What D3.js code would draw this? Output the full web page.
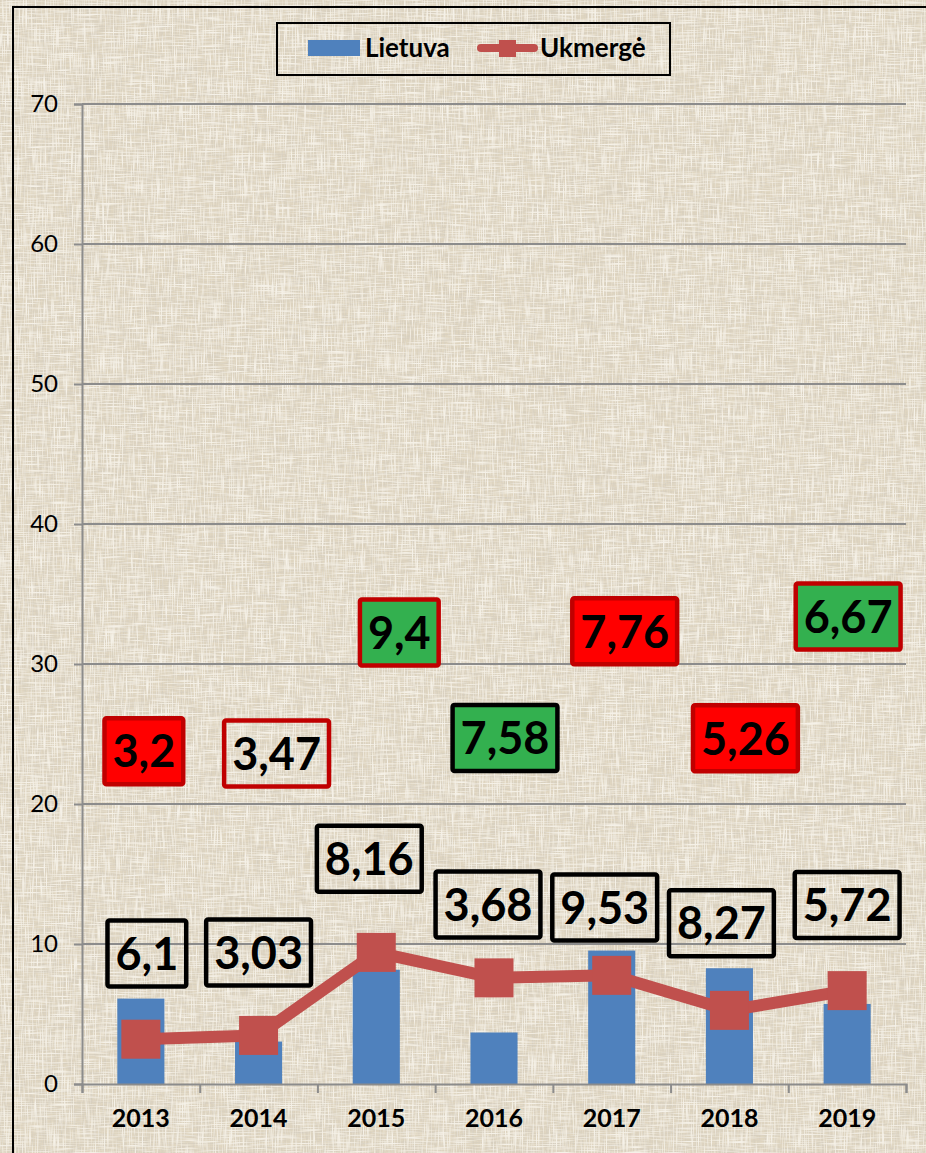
<!DOCTYPE html>
<html>
<head>
<meta charset="utf-8">
<script src="https://cdn.jsdelivr.net/npm/d3@7"></script>
<style>
  html, body { margin: 0; padding: 0; background: #e3d9c5; }
  svg { display: block; }
</style>
</head>
<body>
<svg id="chart" width="926" height="1153"></svg>
<script>
// data
var years = ["2013", "2014", "2015", "2016", "2017", "2018", "2019"];
var lietuva = [6.1, 3.03, 8.16, 3.68, 9.53, 8.27, 5.72];
var ukmerge = [3.2, 3.47, 9.4, 7.58, 7.76, 5.26, 6.67];
var yTicks = [0, 10, 20, 30, 40, 50, 60, 70];

// label placement (px offset from the point) and box styles
var lietuvaLabelOffset = [[6, -45], [0, -89], [-7, -111], [-6, -128], [-7, -43], [-8, -45], [0, -99]];
var ukmergeLabelOffset = [[3, -288], [18, -282], [23, -320], [11, -240], [13, -344], [16, -272], [1, -374]];
var ukmergeLabelFill = ["#ff0000", "none", "#33b04f", "#33b04f", "#ff0000", "#ff0000", "#33b04f"];
var ukmergeLabelStroke = ["#c00000", "#c00000", "#c00000", "#000", "#c00000", "#c00000", "#c00000"];

var colors = { bar: "#4f81bd", line: "#c0504d", grid: "#8c8c8c" };
var fmt = function(v) { return String(v).replace(".", ","); };

var svg = d3.select("#chart");
var width = +svg.attr("width"), height = +svg.attr("height");
var margin = { top: 104, right: 20, bottom: 69, left: 82 };
var plotRight = width - margin.right, plotBottom = height - margin.bottom;

// linen-like background
var defs = svg.append("defs");
var f = defs.append("filter").attr("id", "linen").attr("x", 0).attr("y", 0).attr("width", 1).attr("height", 1);
function noise(freq, seed, name, rgb, a, b) {
  f.append("feTurbulence").attr("type", "fractalNoise").attr("baseFrequency", freq)
    .attr("numOctaves", 2).attr("seed", seed).attr("result", "n" + name);
  f.append("feColorMatrix").attr("in", "n" + name).attr("type", "matrix")
    .attr("values", "0 0 0 0 " + rgb[0] + "  0 0 0 0 " + rgb[1] + "  0 0 0 0 " + rgb[2] + "  " + a + " 0 0 0 " + b)
    .attr("result", name);
}
noise("1.1 0.035", 4, "dv", [0.66, 0.61, 0.52], 2.8, -1.2);
noise("0.035 1.1", 9, "dh", [0.66, 0.61, 0.52], 2.8, -1.2);
noise("0.9 0.04", 2, "lv", [0.98, 0.96, 0.91], 3.0, -1.4);
noise("0.04 0.9", 7, "lh", [0.98, 0.96, 0.91], 3.0, -1.4);
var fm = f.append("feMerge");
["dv", "dh", "lv", "lh"].forEach(function(n) { fm.append("feMergeNode").attr("in", n); });

svg.append("rect").attr("width", width).attr("height", height).attr("fill", "#e0d6c1");
svg.append("rect").attr("width", width).attr("height", height).attr("fill", "#fff")
  .attr("filter", "url(#linen)").attr("opacity", 0.75);

// chart area border (only top and left visible in the crop)
svg.append("path").attr("d", "M13," + height + "V7H" + width)
  .attr("fill", "none").attr("stroke", "#000").attr("stroke-width", 2);

// scales
var x = d3.scaleBand().domain(years).range([margin.left, plotRight]).padding(0);
var xEdge = d3.scaleLinear().domain([0, years.length]).range([margin.left, plotRight]);
var y = d3.scaleLinear().domain([0, 70]).range([plotBottom, margin.top]);
var barW = x.bandwidth() * 0.4;

// grid
svg.append("g").selectAll("line").data(yTicks.slice(1)).join("line")
  .attr("x1", margin.left).attr("x2", plotRight)
  .attr("y1", function(d) { return y(d); }).attr("y2", function(d) { return y(d); })
  .attr("stroke", colors.grid).attr("stroke-width", 2);

// y axis
var yAxis = svg.append("g").attr("transform", "translate(" + margin.left + ",0)")
  .call(d3.axisLeft(y).tickValues(yTicks).tickSize(8).tickPadding(16));
yAxis.select(".domain").attr("stroke", colors.grid).attr("stroke-width", 2);
yAxis.selectAll(".tick line").attr("stroke", colors.grid).attr("stroke-width", 2);
yAxis.selectAll("text").attr("font-family", "Lato, sans-serif").attr("font-size", 24).attr("fill", "#000");

// bars
svg.append("g").selectAll("rect").data(lietuva).join("rect")
  .attr("x", function(d, i) { return x(years[i]) + x.bandwidth() / 2 - barW / 2; })
  .attr("y", function(d) { return y(d); })
  .attr("width", barW)
  .attr("height", function(d) { return y(0) - y(d); })
  .attr("fill", colors.bar);

// x axis
var xAxis = svg.append("g").attr("transform", "translate(0," + plotBottom + ")")
  .call(d3.axisBottom(xEdge).tickValues(d3.range(years.length + 1)).tickSize(9).tickFormat(""));
xAxis.select(".domain").attr("stroke", colors.grid).attr("stroke-width", 2);
xAxis.selectAll(".tick line").attr("stroke", colors.grid).attr("stroke-width", 2);
var xLabels = svg.append("g").attr("transform", "translate(0," + plotBottom + ")")
  .call(d3.axisBottom(x).tickSize(0).tickPadding(25));
xLabels.select(".domain").remove();
xLabels.selectAll("text").attr("font-family", "Lato, sans-serif").attr("font-weight", "bold")
  .attr("font-size", 25).attr("fill", "#000");

// line + markers
var cx = function(i) { return x(years[i]) + x.bandwidth() / 2; };
var line = d3.line().x(function(d, i) { return cx(i); }).y(function(d) { return y(d); });
svg.append("path").datum(ukmerge).attr("d", line)
  .attr("fill", "none").attr("stroke", colors.line).attr("stroke-width", 12).attr("stroke-linejoin", "round");
svg.append("g").selectAll("rect").data(ukmerge).join("rect")
  .attr("x", function(d, i) { return cx(i) - 19.5; })
  .attr("y", function(d) { return y(d) - 19.5; })
  .attr("width", 39).attr("height", 39)
  .attr("fill", colors.line);

// data labels
function drawLabels(values, offsets, fills, strokes) {
  var g = svg.append("g").selectAll("g").data(values).join("g")
    .attr("transform", function(d, i) {
      return "translate(" + (cx(i) + offsets[i][0]) + "," + (y(d) + offsets[i][1]) + ")";
    });
  var box = g.append("rect");
  var txt = g.append("text").text(function(d) { return fmt(d); })
    .attr("text-anchor", "middle").attr("dy", "0.36em")
    .attr("font-family", "Lato, sans-serif").attr("font-weight", "bold")
    .attr("font-size", 45).attr("fill", "#000");
  box.each(function(d, i) {
    var w = txt.nodes()[i].getComputedTextLength() + 16;
    d3.select(this).attr("x", -w / 2).attr("y", -33).attr("width", w).attr("height", 66)
      .attr("rx", 2)
      .attr("fill", fills[i]).attr("stroke", strokes[i]).attr("stroke-width", 4.5);
  });
}
drawLabels(lietuva, lietuvaLabelOffset, lietuva.map(function() { return "none"; }), lietuva.map(function() { return "#000"; }));
drawLabels(ukmerge, ukmergeLabelOffset, ukmergeLabelFill, ukmergeLabelStroke);

// legend
var lg = svg.append("g");
lg.append("rect").attr("x", 277).attr("y", 23).attr("width", 393).attr("height", 52)
  .attr("fill", "none").attr("stroke", "#000").attr("stroke-width", 2);
lg.append("rect").attr("x", 308).attr("y", 40).attr("width", 52).attr("height", 16).attr("fill", colors.bar);
lg.append("text").attr("x", 365).attr("y", 57).text("Lietuva")
  .attr("font-family", "Lato, sans-serif").attr("font-weight", "bold").attr("font-size", 26);
lg.append("line").attr("x1", 481).attr("x2", 534).attr("y1", 48).attr("y2", 48)
  .attr("stroke", colors.line).attr("stroke-width", 8).attr("stroke-linecap", "round");
lg.append("rect").attr("x", 499).attr("y", 40).attr("width", 17).attr("height", 17).attr("fill", colors.line);
lg.append("text").attr("x", 540).attr("y", 57).text("Ukmergė")
  .attr("font-family", "Lato, sans-serif").attr("font-weight", "bold").attr("font-size", 26);
</script>
</body>
</html>
